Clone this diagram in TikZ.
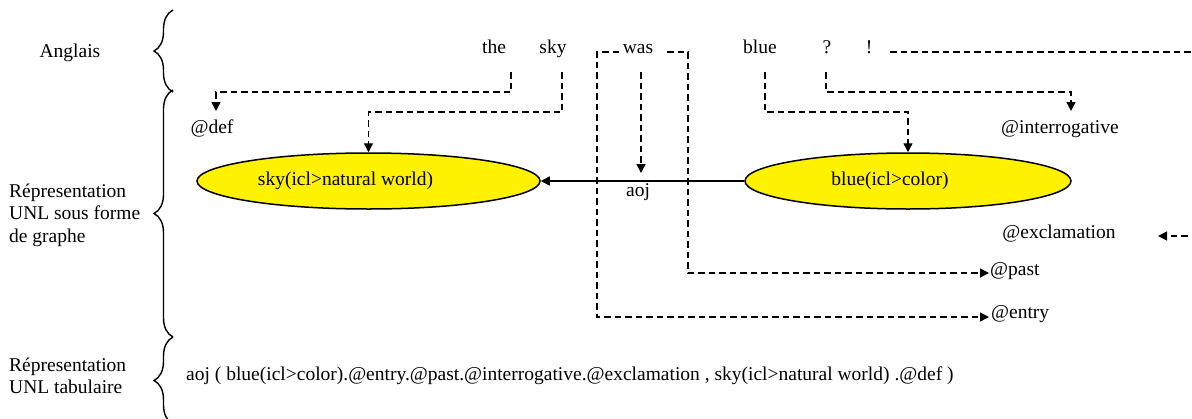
\documentclass[tikz,border=0pt]{standalone}
\usepackage{fontspec}
\setmainfont{Liberation Serif}
\usetikzlibrary{arrows.meta,decorations.pathreplacing,shapes.geometric}

\begin{document}
\begin{tikzpicture}[x=1pt,y=-1pt,
  txt/.style={inner sep=0pt,font=\fontsize{19.5}{22.5}\selectfont},
  word/.style={txt,anchor=base},
  uw/.style={ellipse,draw,line width=1.5pt,fill=yellow,minimum height=56pt,
    inner sep=0pt,font=\fontsize{19.5}{22.5}\selectfont},
  dashlink/.style={dash pattern=on 6.5pt off 4pt,line width=1.4pt,
    -{Triangle[length=9pt,width=9pt]}},
  rel/.style={line width=1.4pt,-{Triangle[length=9pt,width=9pt]}},
  bracket/.style={decorate,decoration={brace,amplitude=19pt},line width=1.4pt}
]
\useasboundingbox (0,0) rectangle (1192,418);
\clip (0,0) rectangle (1192,418);

% section labels and braces
\node[word] (en) at (70,57) {Anglais};
\node[txt,anchor=west,align=left] (graph) at (9,215)
  {Répresentation\\UNL sous forme\\de graphe};
\node[txt,anchor=west,align=left] (tab) at (9,376)
  {Répresentation\\UNL tabulaire};
\draw[bracket] (173,92) -- (173,10);
\draw[bracket] (173,337) -- (173,90);
\draw[bracket] (173,424) -- (173,337);

% English sentence
\node[word] (the) at (494,53) {the};
\node[word] (sky) at (553,53) {sky};
\node[word] (was) at (638,53) {was};
\node[word] (blue) at (760,53) {blue};
\node[word] (qm) at (827,53) {?};
\node[word] (em) at (869,53) {!};

% UNL graph
\node[uw,minimum width=343pt] (sk) at (368.5,181)
  {\hspace*{-46pt}sky(icl>natural world)};
\node[uw,minimum width=326pt] (bl) at (908,181)
  {\hspace*{-36pt}blue(icl>color)};
\draw[rel] (bl.west) -- (sk.east);
\node[txt] (aoj) at (638,192) {aoj};

\node[txt] (def) at (212,128) {@def};
\node[txt] (int) at (1060,129) {@interrogative};
\node[txt] (exc) at (1059,234) {@exclamation};
\node[txt,anchor=west] (past) at (990,271) {@past};
\node[txt,anchor=west] (entry) at (991,314) {@entry};

% anchor points of the dashed links
\coordinate (theS) at (511,72);
\coordinate (skyS) at (562,72);
\coordinate (wasS) at (641,72);
\coordinate (wasL) at (619,52);
\coordinate (wasR) at (667,52);
\coordinate (blueS) at (765,72);
\coordinate (qmS) at (826,72);
\coordinate (emS) at (890,52);
\coordinate (defIn) at (216,111);
\coordinate (intIn) at (1071,111);
\coordinate (aojIn) at (641,173);
\coordinate (pastIn) at (989,273);
\coordinate (entryIn) at (989,317);
\coordinate (excIn) at (1158,236);

% dashed links from words to UNL elements
\draw[dashlink] (theS) -- (511,92) -| (defIn);
\draw[dashlink] (skyS) -- (562,112) -| (sk.north);
\draw[dashlink] (wasS) -- (aojIn);
\draw[dashlink] (wasL) -- (597,52) |- (entryIn);
\draw[dashlink] (wasR) -- (688,52) |- (pastIn);
\draw[dashlink] (blueS) -- (765,112) -| (bl.north);
\draw[dashlink] (qmS) -- (826,92) -| (intIn);
\draw[dashlink] (emS) -- (1204,52) |- (excIn);

% tabular UNL
\node[txt,anchor=west] (unl) at (186,376)
  {aoj ( blue(icl>color).@entry.@past.@interrogative.@exclamation , sky(icl>natural world) .@def )};
\end{tikzpicture}
\end{document}
